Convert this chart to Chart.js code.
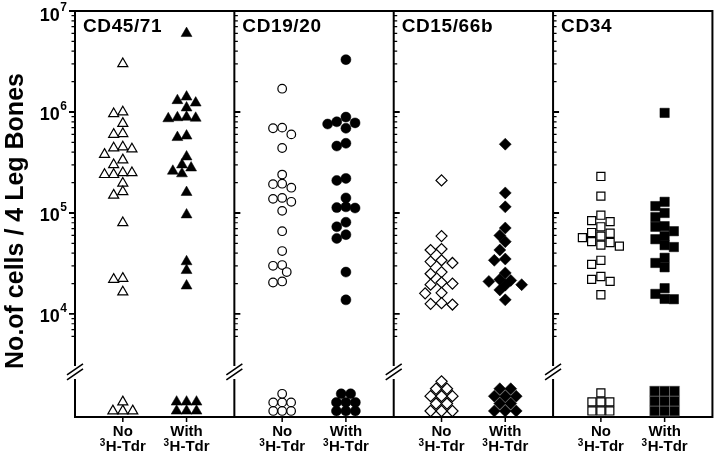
<!DOCTYPE html>
<html>
<head>
<meta charset="utf-8">
<script src="https://cdn.jsdelivr.net/npm/chart.js@4.4.1/dist/chart.umd.min.js"></script>
<style>
  html, body { margin: 0; padding: 0; background: #fff; }
  #wrap { width: 720px; height: 457px; }
</style>
</head>
<body>
<div id="wrap"><canvas id="c" width="720" height="457"></canvas></div>
<script>
// ---------------------------- data (cells / 4 leg bones) ----------------------------
const panelNames = ['CD45/71', 'CD19/20', 'CD15/66b', 'CD34']
const groupLabels = [['No', '³H-Tdr'], ['With', '³H-Tdr']]
const decadeTicks = [1e4, 1e5, 1e6, 1e7]
const decadeExp = ['4', '5', '6', '7']

const cd4571No = [3.0e6, 1.0e6, 9.6e5, 7.7e5, 6.1e5, 6.0e5, 4.5e5, 4.4e5, 4.3e5, 3.8e5, 3.35e5, 3.0e5, 2.5e5, 2.5e5, 2.4e5, 2.4e5, 1.97e5, 1.62e5, 1.5e5, 8.0e4, 2.25e4, 2.2e4, 1.65e4]
const cd4571With = [6.0e6, 1.41e6, 1.3e6, 1.23e6, 1.1e6, 8.9e5, 8.8e5, 8.7e5, 8.6e5, 5.8e5, 5.6e5, 3.6e5, 3.0e5, 2.8e5, 2.6e5, 2.45e5, 1.6e5, 9.6e4, 3.3e4, 2.7e4, 1.9e4]
const cd1920No = [1.7e6, 7.0e5, 6.9e5, 6.0e5, 4.4e5, 2.4e5, 1.95e5, 1.93e5, 1.78e5, 1.41e5, 1.38e5, 1.29e5, 1.05e5, 6.6e4, 4.2e4, 3.05e4, 3.0e4, 2.6e4, 2.1e4, 2.05e4]
const cd1920With = [3.3e6, 8.9e5, 8.0e5, 7.8e5, 7.6e5, 6.9e5, 4.9e5, 4.6e5, 2.2e5, 2.1e5, 1.41e5, 1.15e5, 1.13e5, 1.12e5, 8.1e4, 7.3e4, 6.1e4, 5.6e4, 2.6e4, 1.38e4]
const cd1566No = [2.1e5, 5.9e4, 4.4e4, 4.3e4, 3.4e4, 3.3e4, 3.2e4, 2.6e4, 2.5e4, 2.05e4, 2.0e4, 1.95e4, 1.62e4, 1.6e4, 1.28e4, 1.26e4, 1.24e4]
const cd1566With = [4.8e5, 1.58e5, 1.15e5, 7.1e4, 6.0e4, 5.2e4, 4.3e4, 3.5e4, 3.4e4, 2.55e4, 2.2e4, 2.15e4, 2.1e4, 1.95e4, 1.93e4, 1.73e4, 1.38e4]
const cd34No = [2.3e5, 1.47e5, 9.5e4, 8.4e4, 8.2e4, 7.3e4, 6.4e4, 6.3e4, 5.9e4, 5.7e4, 5.2e4, 5.1e4, 4.8e4, 4.7e4, 3.4e4, 3.1e4, 2.35e4, 2.2e4, 2.1e4, 1.55e4]
const cd34With = [9.8e5, 1.29e5, 1.17e5, 1.0e5, 9.1e4, 7.4e4, 7.3e4, 6.6e4, 5.9e4, 5.5e4, 4.8e4, 4.6e4, 3.6e4, 3.2e4, 2.9e4, 1.8e4, 1.58e4, 1.41e4, 1.4e4]
// mice with no detectable cells (plotted below the axis break)
const zeroNo = [4, 7, 11, 7]
const zeroWith = [6, 8, 10, 9]

// ---------------------------- marker styles ----------------------------
// r: [open, filled] radius, w: spacing used to spread overlapping marks (px)
// zs/zr: spacing / row step of the pile of zero values
const markers = [
  { style: 'triangle', r: [5.8, 6.3], rz: [5.8, 6.3], w: 9.2, hit: 'round', zs: [10, 10], zr: [1.0, 1.0] },
  { style: 'circle', r: [4.3, 5], rz: [4.3, 5], w: 9.2, hit: 'round', zs: [9, 9.5], zr: [0.95, 0.95] },
  { style: 'rectRot', r: [5.5, 6], rz: [5.6, 6], w: 11, hit: 'l1', zs: [11, 11], zr: [0.82, 0.82], lattice: true },
  { style: 'rect', r: [5.7, 6.6], rz: [5.7, 7.07], w: 9.3, hit: 'box', zs: [9, 10], zr: [1.0, 1.1] },
]
const series = [[cd4571No, cd4571With], [cd1920No, cd1920With], [cd1566No, cd1566With], [cd34No, cd34With]]
const zeros = [zeroNo, zeroWith]
const colX = [1.2, 2.8]          // column centres inside a 4-unit wide panel
const PX_PER_X = 40.1, PX_PER_DECADE = 101
const FONT = '"Liberation Sans", Arial, Helvetica, sans-serif'

const minorTicks = []
for (let k = 3; k < 7; k++) for (let m = 2; m < 10; m++) { const v = m * 10 ** k; if (v > 5500) minorTicks.push(v) }

// spread marks that would overlap (column scatter / beeswarm)
const collide = (dx, dy, w, kind) => {
  dx = Math.abs(dx); dy = Math.abs(dy)
  if (kind === 'l1') return dx + dy < w * 0.92
  if (kind === 'box') return dx < w * 0.95 && dy < w * 0.95
  return Math.hypot(dx, dy) < w * 0.9
}
function swarm(values, w, kind) {
  const off = values.map(() => 0)
  const placed = []
  const order = values.map((v, i) => i).sort((a, b) => values[b] - values[a])
  order.forEach(i => {
    const py = -Math.log10(values[i]) * PX_PER_DECADE
    for (let k = 0; k < 30; k++) {
      const cand = (k === 0 ? 0 : (k % 2 ? -1 : 1) * Math.ceil(k / 2)) * w / 2
      if (placed.every(p => !collide(p.x - cand, p.y - py, w, kind))) {
        off[i] = cand; placed.push({ x: cand, y: py }); break
      }
    }
  })
  return off.map(o => o / PX_PER_X)
}
// pile for zero values: rows of 3 (or a 3/2 lattice for diamonds)
function pile(n, spacing, rowStep, lattice) {
  const out = []
  let row = 0
  while (n > 0) {
    const cap = lattice ? (row % 2 ? 2 : 3) : 3
    const m = Math.min(cap, n)
    for (let i = 0; i < m; i++) {
      const dx = lattice && cap === 2 ? (i - 0.5) * spacing : (i - (m - 1) / 2) * spacing
      out.push({ dx: dx / PX_PER_X, y: row * rowStep })
    }
    n -= m; row++
  }
  return out
}

const datasets = []
series.forEach((pair, p) => {
  const mk = markers[p]
  pair.forEach((vals, g) => {
    const cx = p * 4 + colX[g]
    const filled = g === 1
    const off = swarm(vals, mk.w, mk.hit)
    const common = {
      pointStyle: mk.style,
      backgroundColor: filled ? '#000' : '#fff',
      borderColor: '#000',
      borderWidth: filled ? 0.5 : 1.2,
      clip: false,
    }
    datasets.push({ ...common, yAxisID: 'y', pointRadius: mk.r[g],
      data: vals.map((v, i) => ({ x: cx + off[i], y: v })) })
    const z = pile(zeros[g][p], mk.zs[g], mk.zr[g], mk.lattice)
    datasets.push({ ...common, yAxisID: 'yz', pointRadius: mk.rz[g],
      borderColor: filled && mk.style === 'rect' ? '#888' : '#000',
      data: z.map(q => ({ x: cx + q.dx, y: q.y })) })
  })
})

// label with a leading superscript "³"
function supLabel(ctx, text, cx, cy) {
  const big = 'bold 15px ' + FONT, small = 'bold 10px ' + FONT
  let head = '', rest = text
  if (text[0] === '³') { head = '3'; rest = text.slice(1) }
  ctx.font = small
  const hw = head ? ctx.measureText(head).width + 0.5 : 0
  ctx.font = big
  const rw = ctx.measureText(rest).width
  const x0 = cx - (hw + rw) / 2
  ctx.textAlign = 'left'
  if (head) { ctx.font = small; ctx.fillText(head, x0, cy - 4) }
  ctx.font = big
  ctx.fillText(rest, x0 + hw, cy)
}

// ---------------------------- axes, breaks and labels ----------------------------
const axesPlugin = {
  id: 'axes',
  beforeDatasetsDraw(chart) {
    const { ctx, chartArea: a, scales: { x, y } } = chart
    const yb = y.bottom
    ctx.save()
    ctx.strokeStyle = '#000'
    ctx.lineWidth = 2
    ctx.beginPath()
    ctx.moveTo(a.left, a.top); ctx.lineTo(a.right, a.top); ctx.lineTo(a.right, a.bottom); ctx.lineTo(a.left - 1, a.bottom)
    ctx.stroke()
    panelNames.forEach((name, p) => {
      const px = x.getPixelForValue(p * 4)
      const dir = p === 0 ? -1 : 1
      ctx.lineWidth = 2
      ctx.beginPath()
      ctx.moveTo(px, a.top - 1); ctx.lineTo(px, yb - 6)
      ctx.moveTo(px, yb + 7); ctx.lineTo(px, a.bottom + 1)
      ctx.stroke()
      ctx.lineWidth = 1.6
      ctx.beginPath()
      for (const d of [-2.5, 2.5]) { ctx.moveTo(px - 8, yb + d + 5.5); ctx.lineTo(px + 8, yb + d - 5.5) }
      ctx.stroke()
      ctx.lineWidth = 1.2
      ctx.beginPath()
      for (const v of minorTicks) { const ty = y.getPixelForValue(v); ctx.moveTo(px, ty); ctx.lineTo(px + dir * 3.5, ty) }
      ctx.stroke()
      ctx.lineWidth = 1.8
      ctx.beginPath()
      for (const v of decadeTicks) { const ty = y.getPixelForValue(v); ctx.moveTo(px, ty); ctx.lineTo(px + dir * 6, ty) }
      ctx.stroke()
    })
    // x ticks under each column
    ctx.lineWidth = 1.5
    ctx.beginPath()
    for (let p = 0; p < panelNames.length; p++) for (const c of colX) {
      const tx = x.getPixelForValue(p * 4 + c)
      ctx.moveTo(tx, a.bottom); ctx.lineTo(tx, a.bottom + 5)
    }
    ctx.stroke()
    ctx.restore()
  },
  afterDraw(chart) {
    const { ctx, chartArea: a, scales: { x, y } } = chart
    ctx.save()
    ctx.fillStyle = '#000'
    ctx.textBaseline = 'middle'
    // y tick labels 10^n
    decadeTicks.forEach((v, i) => {
      const ty = Math.max(y.getPixelForValue(v) + 3, 16)
      ctx.font = 'bold 12px ' + FONT
      const ew = ctx.measureText(decadeExp[i]).width
      const ex = a.left - 8 - ew
      ctx.textAlign = 'left'
      ctx.fillText(decadeExp[i], ex, ty - 8)
      ctx.font = 'bold 18px ' + FONT
      ctx.textAlign = 'right'
      ctx.fillText('10', ex - 0.5, ty)
    })
    // panel titles
    ctx.font = 'bold 19px ' + FONT
    ctx.letterSpacing = '0.6px'
    ctx.textAlign = 'left'
    panelNames.forEach((name, p) => ctx.fillText(name, x.getPixelForValue(p * 4) + 8, 27))
    ctx.letterSpacing = '0px'
    // column labels
    for (let p = 0; p < panelNames.length; p++) groupLabels.forEach((lab, g) => {
      const tx = x.getPixelForValue(p * 4 + colX[g])
      ctx.font = 'bold 15px ' + FONT
      ctx.textAlign = 'center'
      ctx.fillText(lab[0], tx, 432)
      supLabel(ctx, lab[1], tx, 447)
    })
    // y title
    ctx.translate(16, 221)
    ctx.rotate(-Math.PI / 2)
    ctx.font = 'bold 25px ' + FONT
    ctx.textAlign = 'center'
    ctx.fillText('No.of cells / 4 Leg Bones', 0, 0)
    ctx.restore()
  },
}

new Chart(document.getElementById('c'), {
  type: 'scatter',
  data: { datasets },
  options: {
    responsive: false,
    animation: false,
    devicePixelRatio: 1,
    layout: { padding: { left: 75, top: 11, right: 3, bottom: 40 } },
    plugins: { legend: { display: false }, tooltip: { enabled: false } },
    scales: {
      x: { type: 'linear', min: 0, max: 16, display: false },
      y: { type: 'logarithmic', min: 2670, max: 1e7, display: false, stack: 'v', stackWeight: 8, weight: 2 },
      yz: { type: 'linear', min: -0.67, max: 4.33, display: false, stack: 'v', stackWeight: 1, weight: 1 },
    },
  },
  plugins: [axesPlugin],
})
</script>
</body>
</html>
